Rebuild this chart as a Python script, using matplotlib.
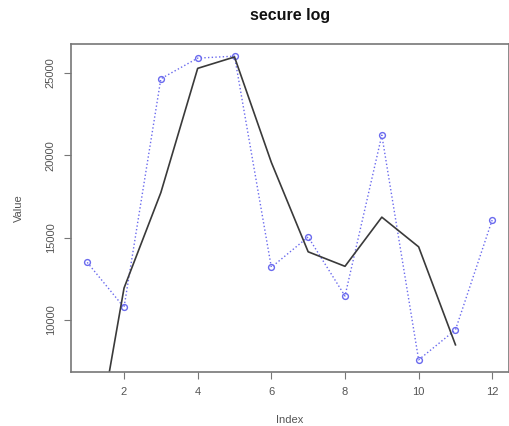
import matplotlib
matplotlib.use('Agg')
import matplotlib.pyplot as plt

# secure log counts (points) and smoothed line
index = [1, 2, 3, 4, 5, 6, 7, 8, 9, 10, 11, 12]
values = [13500, 10770, 24630, 25880, 26000, 13200, 15040, 11460, 21210, 7590, 9410, 16090]
smooth_idx = [1, 2, 3, 4, 5, 6, 7, 8, 9, 10, 11]
smooth = [-800, 11940, 17730, 25260, 25950, 19560, 14140, 13260, 16240, 14440, 8500]

plt.rcParams['font.family'] = ['Liberation Sans', 'DejaVu Sans']

fig = plt.figure(figsize=(5.09, 4.26), dpi=100)
ax = fig.add_axes([71/509, 54/426, 437.5/509, 328/426])

ax.plot(index, values, linestyle=':', color='#6a6aee', linewidth=1.0,
        marker='o', markersize=4.2, markerfacecolor='none', markeredgecolor='#6a6aee',
        markeredgewidth=1.0)
ax.plot(smooth_idx, smooth, color='#3a3a3a', linewidth=1.2)

# R-style 4% padding
ymin, ymax = min(values), max(values)
pad = (ymax - ymin) * 0.04
ax.set_ylim(ymin - pad, ymax + pad)
ax.set_xlim(1 - 11 * 0.04, 12 + 11 * 0.04)

ax.set_xticks([2, 4, 6, 8, 10, 12])
ax.set_yticks([10000, 15000, 20000, 25000])
ax.tick_params(axis='both', direction='out', length=5, color='#777777',
               labelcolor='#555555', labelsize=8, pad=6)
plt.setp(ax.get_yticklabels(), rotation=90, va='center')
for s in ax.spines.values():
    s.set_color('#777777')
    s.set_linewidth(1.2)

ax.set_title('secure log', fontsize=11.5, fontweight='bold', pad=17, color='#111111')
ax.set_xlabel('Index', fontsize=8, color='#555555', labelpad=13)
ax.set_ylabel('Value', fontsize=8, color='#555555', labelpad=16)

fig.savefig('out.png', dpi=100)
